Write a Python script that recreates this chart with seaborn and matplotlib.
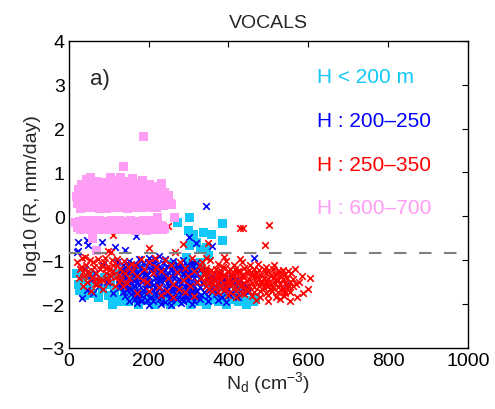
import numpy as np
import pandas as pd
import matplotlib
matplotlib.use("Agg")
import matplotlib.pyplot as plt
import seaborn as sns

# ---------------- data ----------------
title = "VOCALS"
panel_label = "a)"
threshold = -0.84
series_labels = ["H < 200 m", "H : 200\u2013250", "H : 250\u2013350", "H : 600\u2013700"]
x_ticks = [0, 200, 400, 600, 800, 1000]
y_ticks = [-3, -2, -1, 0, 1, 2, 3, 4]

cyan_pts = [
    (273, -0.13), (303, -0.02), (299, -0.33), (310, -0.5), (303, -0.67), (320, -0.6),
    (338, -0.36), (358, -0.42), (384, -0.17), (384, -0.56), (345, -0.7), (330, -0.75),
    (295, -0.95), (330, -1.05), (350, -0.9), (312, -0.42),
    (20, -1.3), (25, -1.55), (27, -1.7), (35, -1.45), (40, -1.8), (50, -1.6), (55, -1.35),
    (60, -1.75), (70, -1.5), (75, -1.85), (85, -1.65), (90, -1.4), (100, -1.8), (105, -1.55),
    (115, -1.7), (120, -1.9), (130, -1.6), (140, -1.8), (150, -1.95), (155, -1.7), (165, -1.85),
    (175, -2.0), (185, -1.75), (195, -1.92), (205, -1.8), (215, -2.02), (225, -1.88), (235, -1.95),
    (245, -1.78), (255, -2.0), (265, -1.85), (275, -1.95), (285, -1.72), (295, -1.9), (305, -2.0),
    (315, -1.8), (325, -1.95), (335, -1.85), (345, -2.0), (355, -1.9), (365, -1.78), (375, -1.95),
    (385, -1.85), (395, -2.0), (405, -1.9), (415, -1.8), (425, -1.95), (435, -1.88), (445, -2.0),
    (455, -1.92), (462, -1.95), (468, -1.85),
    (260, -1.1), (280, -1.2), (300, -1.05), (310, -1.3), (320, -1.15), (340, -1.25), (290, -1.4),
    (350, -1.5), (230, -1.3), (200, -1.5), (380, -1.6), (400, -1.5), (420, -1.6), (440, -1.7),
    (160, -1.4), (180, -1.2), (120, -1.3), (130, -1.95), (110, -2.0),
]

blue_pts = [
    (22, -0.58), (23, -0.8), (46, -0.55), (48, -0.66), (83, -0.58), (115, -0.7), (140, -0.76),
    (168, -0.44), (301, -0.47), (344, 0.24), (358, -0.67), (320, -0.6), (464, -0.95),
    (546, -1.55), (32, -1.86), (45, -1.68), (20, -0.82),
    (40, -1.2), (55, -1.45), (65, -1.3), (75, -1.6), (85, -1.1), (95, -1.5), (105, -1.35),
    (110, -1.75), (120, -1.05), (125, -1.55), (60, -1.75),
    (150, -1.02), (175, -0.98), (200, -0.95), (215, -1.0), (240, -0.97), (260, -1.03),
    (285, -0.99), (310, -1.05), (225, -0.9),
    (135, -1.12), (148, -1.08), (160, -1.13), (172, -1.1), (185, -1.07), (197, -1.14), (210, -1.09),
    (222, -1.12), (235, -1.06), (247, -1.13), (258, -1.1), (270, -1.08), (283, -1.14), (295, -1.1),
    (308, -1.12), (320, -1.07),
    (130, -1.22), (142, -1.18), (155, -1.23), (167, -1.2), (180, -1.17), (192, -1.24), (205, -1.19),
    (217, -1.21), (230, -1.18), (242, -1.23), (255, -1.2), (267, -1.17), (280, -1.22), (292, -1.19),
    (305, -1.24), (317, -1.2), (330, -1.22), (345, -1.25),
    (135, -1.32), (147, -1.28), (160, -1.33), (172, -1.3), (185, -1.27), (197, -1.34), (210, -1.29),
    (222, -1.31), (235, -1.28), (247, -1.33), (260, -1.3), (272, -1.27), (285, -1.32), (297, -1.29),
    (310, -1.34), (322, -1.3), (340, -1.32), (360, -1.35), (380, -1.3),
    (128, -1.42), (140, -1.38), (152, -1.43), (165, -1.4), (177, -1.37), (190, -1.44), (202, -1.39),
    (215, -1.41), (227, -1.38), (240, -1.43), (252, -1.4), (265, -1.37), (277, -1.42), (290, -1.39),
    (302, -1.44), (315, -1.4), (330, -1.42), (350, -1.4), (370, -1.45), (390, -1.42), (410, -1.4),
    (430, -1.45),
    (132, -1.52), (145, -1.48), (157, -1.53), (170, -1.5), (182, -1.47), (195, -1.54), (207, -1.49),
    (220, -1.51), (232, -1.48), (245, -1.53), (257, -1.5), (270, -1.47), (282, -1.52), (295, -1.49),
    (307, -1.54), (320, -1.5), (335, -1.52), (355, -1.5), (375, -1.55), (395, -1.52), (415, -1.5),
    (440, -1.55),
    (128, -1.62), (140, -1.58), (152, -1.63), (165, -1.6), (177, -1.57), (190, -1.64), (202, -1.59),
    (215, -1.61), (227, -1.58), (240, -1.63), (252, -1.6), (265, -1.57), (277, -1.62), (290, -1.59),
    (302, -1.64), (315, -1.6), (330, -1.62), (345, -1.58), (360, -1.63), (380, -1.6), (400, -1.65),
    (420, -1.6), (445, -1.62),
    (135, -1.72), (147, -1.68), (160, -1.73), (172, -1.7), (185, -1.67), (197, -1.74), (210, -1.69),
    (222, -1.71), (235, -1.68), (247, -1.73), (260, -1.7), (272, -1.67), (285, -1.72), (297, -1.69),
    (310, -1.74), (322, -1.7), (338, -1.72), (355, -1.68), (372, -1.73), (390, -1.7), (410, -1.75),
    (430, -1.7), (450, -1.72),
    (140, -1.82), (155, -1.78), (168, -1.83), (180, -1.8), (193, -1.77), (205, -1.84), (218, -1.79),
    (230, -1.81), (243, -1.78), (255, -1.83), (268, -1.8), (280, -1.77), (293, -1.82), (305, -1.79),
    (318, -1.84), (332, -1.8), (350, -1.82), (368, -1.78), (385, -1.83), (405, -1.8), (425, -1.85),
    (150, -1.92), (165, -1.88), (180, -1.94), (195, -1.9), (210, -1.93), (225, -1.89), (240, -1.95),
    (255, -1.91), (270, -1.88), (285, -1.94), (300, -1.9), (315, -1.92), (330, -1.88), (350, -1.93),
    (375, -1.9), (395, -1.95),
    (170, -1.98), (200, -2.02), (230, -1.99), (255, -2.03), (280, -1.98), (310, -2.01),
    (142, -1.25), (163, -1.47), (188, -1.33), (212, -1.56), (238, -1.36), (262, -1.64),
    (287, -1.45), (311, -1.67), (174, -1.76), (198, -1.05), (226, -1.46), (251, -1.77),
    (276, -1.14), (300, -1.58), (156, -1.66), (183, -1.9), (207, -1.25), (233, -1.73),
    (259, -1.35), (283, -1.86),
]

red_pts = [
    (111, -0.43), (249, -0.22), (286, -0.63), (349, -0.6), (429, -0.26), (436, -0.26),
    (502, -0.2), (491, -0.65), (201, -0.72), (98, -0.8), (105, -0.82), (266, -0.82),
    (20, -1.05), (28, -1.2), (32, -0.95), (38, -1.35), (42, -1.1), (48, -1.25), (52, -1.0),
    (58, -1.4), (62, -1.15), (68, -1.3), (72, -0.98), (78, -1.2), (82, -1.45), (88, -1.05),
    (92, -1.3), (98, -1.15), (102, -1.5), (108, -1.0), (112, -1.25), (118, -1.38), (122, -1.1),
    (128, -1.2), (132, -1.45), (138, -1.02), (142, -1.3), (148, -1.15), (152, -1.4), (158, -1.25),
    (25, -1.4), (35, -1.6), (45, -1.5), (55, -1.7), (65, -1.55), (75, -1.45), (85, -1.65),
    (95, -1.4), (105, -1.35), (115, -1.6), (125, -1.5), (135, -1.6), (30, -1.15), (40, -0.92),
    (60, -1.05), (70, -1.55), (80, -1.1), (90, -0.95), (100, -1.22), (110, -1.12), (120, -0.97),
    (145, -1.52), (155, -1.08), (50, -1.32),
    (165, -1.1), (172, -1.35), (180, -0.98), (188, -1.2), (195, -1.5), (202, -1.05), (210, -1.3),
    (218, -1.15), (225, -1.62), (232, -1.25), (240, -1.0), (248, -1.4), (255, -1.12), (262, -1.55),
    (270, -1.28), (278, -1.05), (285, -1.45), (292, -1.18), (300, -1.35), (308, -0.95), (315, -1.25),
    (322, -1.5), (328, -1.1), (170, -1.75), (200, -1.7), (230, -1.8), (260, -1.85), (290, -1.72),
    (315, -1.82), (185, -1.45), (215, -0.95), (245, -1.7), (275, -1.65), (305, -1.6),
    (335, -1.05), (355, -1.0), (375, -1.08), (395, -1.02), (415, -1.1), (435, -1.05), (455, -1.12),
    (475, -1.08), (495, -1.15), (515, -1.12), (345, -0.95), (390, -0.93), (430, -0.98),
    (332, -1.2), (344, -1.18), (356, -1.22), (368, -1.19), (380, -1.23), (392, -1.17), (404, -1.21),
    (416, -1.2), (428, -1.24), (440, -1.18), (452, -1.22), (464, -1.19), (476, -1.23), (488, -1.2),
    (500, -1.24), (512, -1.21), (524, -1.25), (536, -1.22), (550, -1.24), (567, -1.2),
    (338, -1.3), (350, -1.28), (362, -1.32), (374, -1.29), (386, -1.33), (398, -1.27), (410, -1.31),
    (422, -1.3), (434, -1.34), (446, -1.28), (458, -1.32), (470, -1.29), (482, -1.33), (494, -1.3),
    (506, -1.34), (518, -1.31), (530, -1.35), (542, -1.32), (556, -1.3),
    (332, -1.4), (344, -1.38), (356, -1.42), (368, -1.39), (380, -1.43), (392, -1.37), (404, -1.41),
    (416, -1.4), (428, -1.44), (440, -1.38), (452, -1.42), (464, -1.39), (476, -1.43), (488, -1.4),
    (500, -1.44), (512, -1.41), (524, -1.45), (536, -1.42), (548, -1.4), (562, -1.44), (584, -1.35),
    (604, -1.4),
    (338, -1.5), (350, -1.48), (362, -1.52), (374, -1.49), (386, -1.53), (398, -1.47), (410, -1.51),
    (422, -1.5), (434, -1.54), (446, -1.48), (458, -1.52), (470, -1.49), (482, -1.53), (494, -1.5),
    (506, -1.54), (518, -1.51), (530, -1.55), (542, -1.52), (555, -1.5), (570, -1.55),
    (344, -1.6), (356, -1.58), (368, -1.62), (380, -1.59), (392, -1.63), (404, -1.57), (416, -1.61),
    (428, -1.6), (440, -1.64), (452, -1.58), (464, -1.62), (476, -1.59), (488, -1.63), (500, -1.6),
    (512, -1.64), (524, -1.61), (536, -1.65), (548, -1.62), (562, -1.6), (600, -1.65),
    (360, -1.7), (375, -1.72), (390, -1.68), (405, -1.73), (420, -1.7), (435, -1.74), (450, -1.68),
    (465, -1.72), (480, -1.7), (495, -1.74), (510, -1.7), (525, -1.73), (540, -1.71), (587, -1.75),
    (555, -1.72),
    (400, -1.8), (420, -1.83), (440, -1.78), (460, -1.82), (480, -1.85), (500, -1.8), (520, -1.84),
    (540, -1.82), (572, -1.84),
    (470, -1.9), (500, -1.92), (530, -1.88), (554, -1.93),
    (341, -1.25), (363, -1.45), (387, -1.15), (409, -1.36), (433, -1.56), (457, -1.26),
    (481, -1.47), (505, -1.66), (529, -1.28), (553, -1.58), (352, -1.66), (376, -1.35),
    (399, -1.55), (423, -1.25), (447, -1.68), (471, -1.38), (495, -1.57), (519, -1.45),
    (543, -1.75), (577, -1.49), (35, -1.27), (67, -1.42), (93, -1.18), (127, -1.33),
]

pink_pts = [
    (20, 0.45), (22, 0.3), (25, 0.6), (28, 0.5), (30, 0.22), (33, 0.72), (35, 0.4), (38, 0.55),
    (40, 0.28), (42, 0.65), (45, 0.85), (47, 0.45), (50, 0.2), (52, 0.35), (55, 0.58), (57, 0.75),
    (60, 0.25), (62, 0.5), (65, 0.4), (67, 0.62), (70, 0.8), (72, 0.3), (75, 0.52), (78, 0.18),
    (80, 0.44), (82, 0.68), (85, 0.22), (88, 0.57), (90, 0.36), (92, 0.76), (95, 0.48), (98, 0.2),
    (100, 0.62), (102, 0.4), (105, 0.88), (107, 0.3), (110, 0.55), (112, 0.19), (115, 0.7),
    (118, 0.45), (120, 0.25), (122, 0.6), (125, 0.38), (128, 0.82), (130, 0.5), (132, 0.2),
    (135, 0.65), (137, 0.42), (140, 0.3), (142, 0.72), (145, 0.55), (148, 0.18), (150, 0.48),
    (152, 0.8), (155, 0.35), (158, 0.6), (160, 0.25), (162, 0.7), (165, 0.45), (168, 0.2),
    (170, 0.55), (172, 0.75), (175, 0.38), (178, 0.62), (180, 0.28), (182, 0.5), (185, 0.82),
    (188, 0.4), (190, 0.22), (192, 0.65), (195, 0.45), (198, 0.3), (200, 0.58), (202, 0.72),
    (205, 0.4), (208, 0.22), (210, 0.52), (212, 0.68), (215, 0.35), (218, 0.55), (220, 0.2),
    (222, 0.45), (225, 0.62), (228, 0.3), (230, 0.5), (232, 0.75), (235, 0.4), (238, 0.24),
    (240, 0.55), (245, 0.35), (250, 0.48), (255, 0.3), (258, 0.26),
    (55, 0.88), (130, 0.88), (95, 0.18), (160, 0.86), (30, 0.18), (62, 0.19), (185, 0.19), (210, 0.2),
    (18, -0.15), (22, -0.25), (26, -0.11), (30, -0.3), (34, -0.18), (38, -0.1), (42, -0.28),
    (46, -0.12), (50, -0.22), (54, -0.31), (58, -0.1), (62, -0.2), (66, -0.3), (70, -0.12),
    (74, -0.25), (78, -0.1), (82, -0.18), (86, -0.3), (90, -0.11), (94, -0.22), (98, -0.3),
    (102, -0.15), (106, -0.1), (110, -0.25), (114, -0.31), (118, -0.12), (122, -0.22),
    (126, -0.1), (130, -0.3), (134, -0.18), (138, -0.25), (142, -0.11), (146, -0.31), (150, -0.2),
    (154, -0.1), (158, -0.28), (162, -0.15), (166, -0.32), (170, -0.22), (174, -0.11), (178, -0.3),
    (182, -0.18), (186, -0.1), (190, -0.25), (194, -0.32), (198, -0.15), (202, -0.28),
    (206, -0.1), (210, -0.2), (214, -0.3), (218, -0.12), (222, -0.25), (228, -0.31), (232, -0.2),
    (236, -0.3), (240, -0.28), (223, -0.03), (264, -0.03), (60, -0.5), (70, -0.77),
    (186, 1.81), (138, 1.13),
]

colors = ["#12C8F8", "#0000FF", "#FF0000", "#FF9CF4"]

# ---------------- plotting ----------------
sns.set_theme(style="white")
plt.rcParams["font.family"] = ["Liberation Sans", "DejaVu Sans"]
plt.rcParams["mathtext.default"] = "regular"

fig = plt.figure(figsize=(4.95, 4.10), dpi=100)
ax = fig.add_axes([0.139, 0.149, 0.806, 0.749])

def frame(pts):
    return pd.DataFrame(pts, columns=["Nd", "logR"])

sns.scatterplot(data=frame(cyan_pts), x="Nd", y="logR", marker="s", s=42,
                color=colors[0], edgecolor="none", linewidth=0, ax=ax, zorder=2)
sns.scatterplot(data=frame(blue_pts), x="Nd", y="logR", marker="x", s=22,
                color=colors[1], linewidth=1.2, ax=ax, zorder=3)
sns.scatterplot(data=frame(red_pts), x="Nd", y="logR", marker="x", s=22,
                color=colors[2], linewidth=1.2, ax=ax, zorder=4)
sns.scatterplot(data=frame(pink_pts), x="Nd", y="logR", marker="s", s=42,
                color=colors[3], edgecolor="none", linewidth=0, ax=ax, zorder=5)

ax.axhline(threshold, color="#808080", linewidth=1.5, dashes=(6, 6), zorder=6)

ax.set_xlim(0, 1000)
ax.set_ylim(-3, 4)
ax.set_xticks(x_ticks)
ax.set_yticks(y_ticks)
ax.tick_params(direction="in", length=4, width=0.8, top=True, right=True,
               labelsize=14, colors="black", pad=3)
ax.tick_params(axis="x", labeltop=False)
for sp in ax.spines.values():
    sp.set_color("black")
    sp.set_linewidth(1.0)

ax.set_xlabel("N$_d$ (cm$^{-3}$)", fontsize=14, labelpad=0)
ax.set_ylabel("log10 (R, mm/day)", fontsize=14, labelpad=1)
ax.set_title(title, fontsize=14, pad=10)

ax.text(53, 3.13, panel_label, fontsize=16, ha="left", va="center")
label_y = [3.18, 2.18, 1.17, 0.19]
for lab, col, yy in zip(series_labels, colors, label_y):
    ax.text(622, yy, lab, color=col, fontsize=15, ha="left", va="center")

fig.savefig("out.png", dpi=100)
